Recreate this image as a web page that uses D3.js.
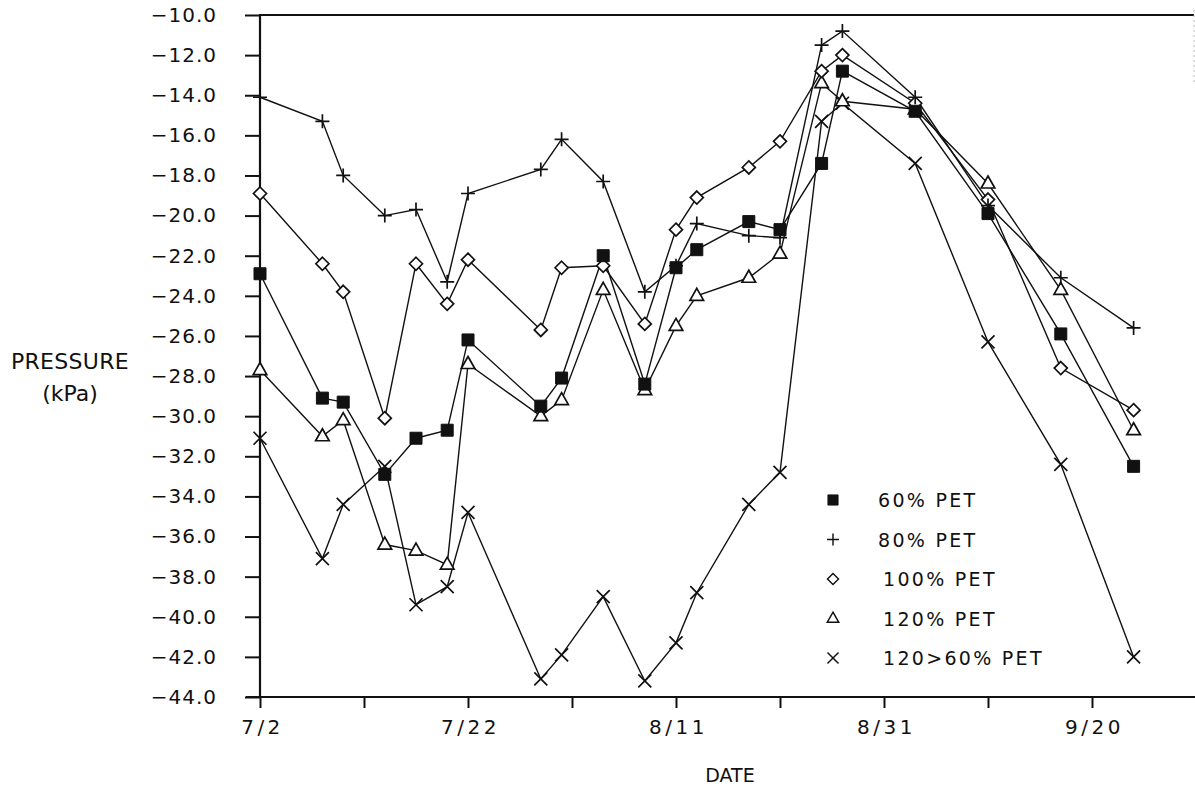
<!DOCTYPE html>
<html>
<head>
<meta charset="utf-8">
<script src="https://cdn.jsdelivr.net/npm/d3@7"></script>
<style>
  html, body { margin: 0; padding: 0; background: #fff; }
  svg text { font-family: "DejaVu Sans", sans-serif; fill: #111; }
</style>
</head>
<body>
<script>
// sampling dates (1 season)
const dates = ["7/2", "7/8", "7/10", "7/14", "7/17", "7/20", "7/22", "7/29", "7/31", "8/4", "8/8",
  "8/11", "8/13", "8/18", "8/21", "8/25", "8/27", "9/3", "9/10", "9/17", "9/24"];

// soil water pressure, kPa
const pet60 = [-22.9, -29.1, -29.3, -32.9, -31.1, -30.7, -26.2, -29.5, -28.1, -22.0, -28.4,
  -22.6, -21.7, -20.3, -20.7, -17.4, -12.8, -14.8, -19.9, -25.9, -32.5];
const pet80 = [-14.1, -15.3, -18.0, -20.0, -19.7, -23.3, -18.9, -17.7, -16.2, -18.3, -23.8,
  -22.5, -20.4, -21.0, -21.1, -11.5, -10.8, -14.1, -19.5, -23.1, -25.6];
const pet100 = [-18.9, -22.4, -23.8, -30.1, -22.4, -24.4, -22.2, -25.7, -22.6, -22.5, -25.4,
  -20.7, -19.1, -17.6, -16.3, -12.8, -12.0, -14.4, -19.2, -27.6, -29.7];
const pet120 = [-27.7, -31.0, -30.2, -36.4, -36.7, -37.4, -27.4, -30.0, -29.2, -23.7, -28.7,
  -25.5, -24.0, -23.1, -21.9, -13.4, -14.3, -14.7, -18.4, -23.7, -30.7];
const pet120to60 = [-31.1, -37.1, -34.4, -32.5, -39.4, -38.5, -34.8, -43.1, -41.9, -39.0, -43.2,
  -41.3, -38.8, -34.4, -32.8, -15.3, -14.4, -17.4, -26.3, -32.4, -42.0];

const seriesNames = ["60% PET", "80% PET", "100% PET", "120% PET", "120>60% PET"];
const seriesShapes = ["square", "plus", "diamond", "triangle", "cross"];

const xTickLabels = ["7/2", "7/22", "8/11", "8/31", "9/20"];

const width = 1195, height = 788;
const plotLeft = 260, plotRight = 1194, plotTop = 15, plotBottom = 697;

const parseDate = d3.timeParse("%m/%d");

const svg = d3.select("body").append("svg")
  .attr("width", width)
  .attr("height", height);

// scales
const x = d3.scaleTime()
  .domain([parseDate("7/2"), parseDate("9/30")])
  .range([plotLeft, plotLeft + 90 * 10.4]);

const y = d3.scaleLinear()
  .domain([-44, -10])
  .range([plotBottom, plotTop]);

// frame
svg.append("line")
  .attr("x1", plotLeft - 1).attr("x2", plotRight)
  .attr("y1", plotTop).attr("y2", plotTop)
  .attr("stroke", "#111").attr("stroke-width", 2.2);
svg.append("line")
  .attr("x1", plotRight).attr("x2", plotRight)
  .attr("y1", plotTop - 5).attr("y2", 85)
  .attr("stroke", "#bbb").attr("stroke-width", 1)
  .attr("stroke-dasharray", "2,3");

// y axis
const yAxis = d3.axisLeft(y)
  .tickValues(d3.range(-44, -9, 2))
  .tickSize(15)
  .tickPadding(28)
  .tickFormat(d => d3.format(".1f")(d).replace("-", "\u2212"));

const gy = svg.append("g")
  .attr("transform", `translate(${plotLeft},0)`)
  .call(yAxis);
gy.select(".domain").attr("stroke", "#111").attr("stroke-width", 2.2)
  .attr("d", `M0,${plotTop}V${plotBottom}`);
gy.selectAll(".tick line").attr("stroke", "#111").attr("stroke-width", 2);
gy.selectAll(".tick text")
  .style("font-family", "'DejaVu Sans', sans-serif")
  .style("font-size", "20px")
  .style("letter-spacing", "1px")
  .attr("fill", "#111");

// x axis
const xAxis = d3.axisBottom(x)
  .tickValues(d3.range(0, 91, 10).map(d => d3.timeDay.offset(parseDate("7/2"), d)))
  .tickSize(11)
  .tickPadding(12)
  .tickFormat(d => {
    const s = d3.timeFormat("%-m/%-d")(d);
    return xTickLabels.includes(s) ? s : "";
  });

const gx = svg.append("g")
  .attr("transform", `translate(0,${plotBottom})`)
  .call(xAxis);
gx.select(".domain").attr("stroke", "#111").attr("stroke-width", 2.2)
  .attr("d", `M${plotLeft - 14},0H${width}`);
gx.selectAll(".tick line").attr("stroke", "#111").attr("stroke-width", 2);
gx.selectAll(".tick text")
  .style("font-family", "'DejaVu Sans', sans-serif")
  .style("font-size", "20px")
  .style("letter-spacing", "3.5px")
  .attr("dx", "2px")
  .attr("fill", "#111");

// axis titles
svg.append("text")
  .attr("x", 70).attr("y", 369)
  .attr("text-anchor", "middle")
  .style("font-size", "22px")
  .style("letter-spacing", "0.3px")
  .text("PRESSURE");
svg.append("text")
  .attr("x", 70).attr("y", 401)
  .attr("text-anchor", "middle")
  .style("font-size", "22px")
  .text("(kPa)");
svg.append("text")
  .attr("x", 730).attr("y", 782)
  .attr("text-anchor", "middle")
  .style("font-size", "19px")
  .text("DATE");

// marker paths
function markerPath(shape) {
  switch (shape) {
    case "square": return "M-6,-6H6V6H-6Z";
    case "plus": return "M-7,0H7M0,-7V7";
    case "diamond": return "M0,-6.5L6.5,0L0,6.5L-6.5,0Z";
    case "triangle": return "M0,-7.5L6.8,4.5H-6.8Z";
    case "cross": return "M-6.5,-6.5L6.5,6.5M6.5,-6.5L-6.5,6.5";
  }
}

function drawMarker(g, shape) {
  const filled = shape === "square";
  const closed = shape === "square" || shape === "diamond" || shape === "triangle";
  g.append("path")
    .attr("d", markerPath(shape))
    .attr("fill", filled ? "#111" : (closed ? "#fff" : "none"))
    .attr("stroke", "#111")
    .attr("stroke-width", filled ? 1 : 1.7);
}

const allSeries = [pet60, pet80, pet100, pet120, pet120to60];

const line = d3.line()
  .x((d, i) => x(parseDate(dates[i])))
  .y(d => y(d));

// lines first, then markers on top
allSeries.forEach(values => {
  svg.append("path")
    .datum(values)
    .attr("fill", "none")
    .attr("stroke", "#111")
    .attr("stroke-width", 1.4)
    .attr("d", line);
});

// draw markers so the filled squares sit on top
[4, 3, 2, 1, 0].forEach(s => {
  allSeries[s].forEach((v, i) => {
    const g = svg.append("g")
      .attr("transform", `translate(${x(parseDate(dates[i]))},${y(v)})`);
    drawMarker(g, seriesShapes[s]);
  });
});

// legend
const legend = svg.append("g").attr("transform", "translate(833,500)");
seriesNames.forEach((name, i) => {
  const row = legend.append("g").attr("transform", `translate(0,${i * 39.5})`);
  const m = row.append("g").attr("transform", "scale(0.85)");
  drawMarker(m, seriesShapes[i]);
  row.append("text")
    .attr("x", i < 2 ? 45 : 50)
    .attr("y", 7)
    .style("font-size", "19px")
    .style("letter-spacing", "2.3px")
    .text(name);
});
</script>
</body>
</html>
